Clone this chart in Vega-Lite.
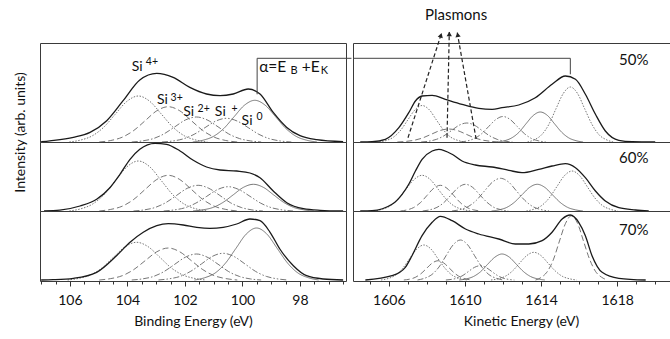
{
"$schema": "https://vega.github.io/schema/vega-lite/v6.json",
"background": "white",
"padding": {"left": 12, "top": 7, "right": 0, "bottom": 0},
"spacing": -3,
"config": {"view": {"stroke": "#3a3a3a", "strokeWidth": 1}, "font": "Lato", "axis": {"grid": false}},
"datasets": {
"L1": [
{"s":"Si4+","e":101.22,"i":0},{"s":"Si4+","e":101.62,"i":2.0},{"s":"Si4+","e":102.02,"i":6.2},{"s":"Si4+","e":102.42,"i":14.9},{"s":"Si4+","e":102.82,"i":27.9},{"s":"Si4+","e":103.22,"i":40.6},{"s":"Si4+","e":103.62,"i":46},{"s":"Si4+","e":104.02,"i":40.6},{"s":"Si4+","e":104.42,"i":27.9},{"s":"Si4+","e":104.82,"i":14.9},{"s":"Si4+","e":105.22,"i":6.2},{"s":"Si4+","e":105.62,"i":2.0},{"s":"Si4+","e":106.02,"i":0},
{"s":"Si3+","e":100.18,"i":0},{"s":"Si3+","e":100.58,"i":1.5},{"s":"Si3+","e":100.98,"i":4.8},{"s":"Si3+","e":101.38,"i":11.5},{"s":"Si3+","e":101.78,"i":21.4},{"s":"Si3+","e":102.18,"i":31.2},{"s":"Si3+","e":102.58,"i":35.3},{"s":"Si3+","e":102.98,"i":31.2},{"s":"Si3+","e":103.38,"i":21.4},{"s":"Si3+","e":103.78,"i":11.5},{"s":"Si3+","e":104.18,"i":4.8},{"s":"Si3+","e":104.58,"i":1.5},{"s":"Si3+","e":104.98,"i":0},
{"s":"Si2+","e":99.35,"i":0},{"s":"Si2+","e":99.73,"i":1.1},{"s":"Si2+","e":100.1,"i":3.4},{"s":"Si2+","e":100.48,"i":8.1},{"s":"Si2+","e":100.85,"i":15.2},{"s":"Si2+","e":101.23,"i":22.1},{"s":"Si2+","e":101.6,"i":25},{"s":"Si2+","e":101.98,"i":22.1},{"s":"Si2+","e":102.35,"i":15.2},{"s":"Si2+","e":102.73,"i":8.1},{"s":"Si2+","e":103.1,"i":3.4},{"s":"Si2+","e":103.48,"i":1.1},{"s":"Si2+","e":103.85,"i":0},
{"s":"Si+","e":98.3,"i":0},{"s":"Si+","e":98.68,"i":1.0},{"s":"Si+","e":99.05,"i":3.2},{"s":"Si+","e":99.43,"i":7.7},{"s":"Si+","e":99.8,"i":14.4},{"s":"Si+","e":100.18,"i":20.9},{"s":"Si+","e":100.55,"i":23.7},{"s":"Si+","e":100.93,"i":20.9},{"s":"Si+","e":101.3,"i":14.4},{"s":"Si+","e":101.68,"i":7.7},{"s":"Si+","e":102.05,"i":3.2},{"s":"Si+","e":102.43,"i":1.0},{"s":"Si+","e":102.8,"i":0},
{"s":"Si0","e":97.41,"i":0},{"s":"Si0","e":97.77,"i":1.8},{"s":"Si0","e":98.13,"i":5.6},{"s":"Si0","e":98.49,"i":13.5},{"s":"Si0","e":98.85,"i":25.3},{"s":"Si0","e":99.21,"i":36.8},{"s":"Si0","e":99.57,"i":41.7},{"s":"Si0","e":99.93,"i":36.8},{"s":"Si0","e":100.29,"i":25.3},{"s":"Si0","e":100.65,"i":13.5},{"s":"Si0","e":101.01,"i":5.6},{"s":"Si0","e":101.37,"i":1.8},{"s":"Si0","e":101.73,"i":0},
{"s":"fit","e":107.0,"i":0.3},{"s":"fit","e":106.7,"i":1.2},{"s":"fit","e":105.88,"i":4.6},{"s":"fit","e":105.3,"i":9.6},{"s":"fit","e":104.72,"i":21.3},{"s":"fit","e":104.15,"i":41.3},{"s":"fit","e":103.57,"i":62.0},{"s":"fit","e":102.98,"i":68.6},{"s":"fit","e":102.41,"i":64.6},{"s":"fit","e":101.83,"i":54.6},{"s":"fit","e":101.25,"i":48.0},{"s":"fit","e":100.78,"i":46.3},{"s":"fit","e":100.32,"i":48.0},{"s":"fit","e":99.8,"i":53.0},{"s":"fit","e":99.39,"i":48.0},{"s":"fit","e":98.93,"i":29.6},{"s":"fit","e":98.46,"i":14.6},{"s":"fit","e":98.0,"i":6.3},{"s":"fit","e":97.42,"i":2.3},{"s":"fit","e":96.5,"i":0.3}
],
"L2": [
{"s":"Si4+","e":101.22,"i":0},{"s":"Si4+","e":101.62,"i":2.2},{"s":"Si4+","e":102.02,"i":6.8},{"s":"Si4+","e":102.42,"i":16.2},{"s":"Si4+","e":102.82,"i":30.3},{"s":"Si4+","e":103.22,"i":44.1},{"s":"Si4+","e":103.62,"i":50},{"s":"Si4+","e":104.02,"i":44.1},{"s":"Si4+","e":104.42,"i":30.3},{"s":"Si4+","e":104.82,"i":16.2},{"s":"Si4+","e":105.22,"i":6.8},{"s":"Si4+","e":105.62,"i":2.2},{"s":"Si4+","e":106.02,"i":0},
{"s":"Si3+","e":100.18,"i":0},{"s":"Si3+","e":100.58,"i":1.6},{"s":"Si3+","e":100.98,"i":4.8},{"s":"Si3+","e":101.38,"i":11.6},{"s":"Si3+","e":101.78,"i":21.7},{"s":"Si3+","e":102.18,"i":31.5},{"s":"Si3+","e":102.58,"i":35.7},{"s":"Si3+","e":102.98,"i":31.5},{"s":"Si3+","e":103.38,"i":21.7},{"s":"Si3+","e":103.78,"i":11.6},{"s":"Si3+","e":104.18,"i":4.8},{"s":"Si3+","e":104.58,"i":1.6},{"s":"Si3+","e":104.98,"i":0},
{"s":"Si2+","e":99.29,"i":0},{"s":"Si2+","e":99.67,"i":1.1},{"s":"Si2+","e":100.04,"i":3.5},{"s":"Si2+","e":100.42,"i":8.3},{"s":"Si2+","e":100.79,"i":15.6},{"s":"Si2+","e":101.17,"i":22.7},{"s":"Si2+","e":101.54,"i":25.7},{"s":"Si2+","e":101.92,"i":22.7},{"s":"Si2+","e":102.29,"i":15.6},{"s":"Si2+","e":102.67,"i":8.3},{"s":"Si2+","e":103.04,"i":3.5},{"s":"Si2+","e":103.42,"i":1.1},{"s":"Si2+","e":103.79,"i":0},
{"s":"Si+","e":98.24,"i":0},{"s":"Si+","e":98.62,"i":1.1},{"s":"Si+","e":98.99,"i":3.3},{"s":"Si+","e":99.37,"i":7.9},{"s":"Si+","e":99.74,"i":14.7},{"s":"Si+","e":100.12,"i":21.4},{"s":"Si+","e":100.49,"i":24.3},{"s":"Si+","e":100.87,"i":21.4},{"s":"Si+","e":101.24,"i":14.7},{"s":"Si+","e":101.62,"i":7.9},{"s":"Si+","e":101.99,"i":3.3},{"s":"Si+","e":102.37,"i":1.1},{"s":"Si+","e":102.74,"i":0},
{"s":"Si0","e":97.52,"i":0},{"s":"Si0","e":97.87,"i":1.2},{"s":"Si0","e":98.22,"i":3.6},{"s":"Si0","e":98.57,"i":8.7},{"s":"Si0","e":98.92,"i":16.2},{"s":"Si0","e":99.27,"i":23.6},{"s":"Si0","e":99.62,"i":26.7},{"s":"Si0","e":99.97,"i":23.6},{"s":"Si0","e":100.32,"i":16.2},{"s":"Si0","e":100.67,"i":8.7},{"s":"Si0","e":101.02,"i":3.6},{"s":"Si0","e":101.37,"i":1.2},{"s":"Si0","e":101.72,"i":0},
{"s":"fit","e":106.9,"i":0.2},{"s":"fit","e":106.35,"i":0.9},{"s":"fit","e":105.65,"i":5},{"s":"fit","e":105.07,"i":11.7},{"s":"fit","e":104.61,"i":23.3},{"s":"fit","e":104.26,"i":36.7},{"s":"fit","e":103.91,"i":51.7},{"s":"fit","e":103.57,"i":61.7},{"s":"fit","e":103.04,"i":67.7},{"s":"fit","e":102.64,"i":66.7},{"s":"fit","e":102.17,"i":60},{"s":"fit","e":101.71,"i":50.7},{"s":"fit","e":101.25,"i":44},{"s":"fit","e":100.78,"i":41},{"s":"fit","e":100.2,"i":40},{"s":"fit","e":99.74,"i":38},{"s":"fit","e":99.39,"i":33.3},{"s":"fit","e":98.93,"i":20},{"s":"fit","e":98.46,"i":8.3},{"s":"fit","e":97.88,"i":2.3},{"s":"fit","e":97.3,"i":0.7},{"s":"fit","e":96.5,"i":0}
],
"L3": [
{"s":"Si4+","e":101.28,"i":0},{"s":"Si4+","e":101.68,"i":1.7},{"s":"Si4+","e":102.08,"i":5.1},{"s":"Si4+","e":102.48,"i":12.2},{"s":"Si4+","e":102.88,"i":22.9},{"s":"Si4+","e":103.28,"i":33.3},{"s":"Si4+","e":103.68,"i":37.7},{"s":"Si4+","e":104.08,"i":33.3},{"s":"Si4+","e":104.48,"i":22.9},{"s":"Si4+","e":104.88,"i":12.2},{"s":"Si4+","e":105.28,"i":5.1},{"s":"Si4+","e":105.68,"i":1.7},{"s":"Si4+","e":106.08,"i":0},
{"s":"Si3+","e":100.18,"i":0},{"s":"Si3+","e":100.58,"i":1.4},{"s":"Si3+","e":100.98,"i":4.3},{"s":"Si3+","e":101.38,"i":10.4},{"s":"Si3+","e":101.78,"i":19.4},{"s":"Si3+","e":102.18,"i":28.2},{"s":"Si3+","e":102.58,"i":32},{"s":"Si3+","e":102.98,"i":28.2},{"s":"Si3+","e":103.38,"i":19.4},{"s":"Si3+","e":103.78,"i":10.4},{"s":"Si3+","e":104.18,"i":4.3},{"s":"Si3+","e":104.58,"i":1.4},{"s":"Si3+","e":104.98,"i":0},
{"s":"Si2+","e":99.35,"i":0},{"s":"Si2+","e":99.73,"i":1.1},{"s":"Si2+","e":100.1,"i":3.5},{"s":"Si2+","e":100.48,"i":8.4},{"s":"Si2+","e":100.85,"i":15.8},{"s":"Si2+","e":101.23,"i":22.9},{"s":"Si2+","e":101.6,"i":26},{"s":"Si2+","e":101.98,"i":22.9},{"s":"Si2+","e":102.35,"i":15.8},{"s":"Si2+","e":102.73,"i":8.4},{"s":"Si2+","e":103.1,"i":3.5},{"s":"Si2+","e":103.48,"i":1.1},{"s":"Si2+","e":103.85,"i":0},
{"s":"Si+","e":98.42,"i":0},{"s":"Si+","e":98.8,"i":1.2},{"s":"Si+","e":99.17,"i":3.6},{"s":"Si+","e":99.55,"i":8.7},{"s":"Si+","e":99.92,"i":16.2},{"s":"Si+","e":100.3,"i":23.6},{"s":"Si+","e":100.67,"i":26.7},{"s":"Si+","e":101.05,"i":23.6},{"s":"Si+","e":101.42,"i":16.2},{"s":"Si+","e":101.8,"i":8.7},{"s":"Si+","e":102.17,"i":3.6},{"s":"Si+","e":102.55,"i":1.2},{"s":"Si+","e":102.92,"i":0},
{"s":"Si0","e":97.35,"i":0},{"s":"Si0","e":97.71,"i":2.3},{"s":"Si0","e":98.07,"i":7.0},{"s":"Si0","e":98.43,"i":16.9},{"s":"Si0","e":98.79,"i":31.5},{"s":"Si0","e":99.15,"i":45.9},{"s":"Si0","e":99.51,"i":52},{"s":"Si0","e":99.87,"i":45.9},{"s":"Si0","e":100.23,"i":31.5},{"s":"Si0","e":100.59,"i":16.9},{"s":"Si0","e":100.95,"i":7.0},{"s":"Si0","e":101.31,"i":2.3},{"s":"Si0","e":101.67,"i":0},
{"s":"fit","e":107.0,"i":0},{"s":"fit","e":106.58,"i":0.3},{"s":"fit","e":105.88,"i":1.7},{"s":"fit","e":105.07,"i":7.7},{"s":"fit","e":104.38,"i":24.3},{"s":"fit","e":103.91,"i":37.7},{"s":"fit","e":103.45,"i":47.7},{"s":"fit","e":102.98,"i":54.3},{"s":"fit","e":102.58,"i":56.3},{"s":"fit","e":102.06,"i":55},{"s":"fit","e":101.59,"i":52.7},{"s":"fit","e":101.13,"i":51.7},{"s":"fit","e":100.67,"i":52.7},{"s":"fit","e":100.2,"i":56},{"s":"fit","e":99.74,"i":61},{"s":"fit","e":99.39,"i":59.3},{"s":"fit","e":99.04,"i":47.7},{"s":"fit","e":98.7,"i":31},{"s":"fit","e":98.23,"i":14.3},{"s":"fit","e":97.77,"i":4.3},{"s":"fit","e":97.19,"i":1},{"s":"fit","e":96.5,"i":0}
],
"R1": [
{"s":"P1","e":1605.5,"i":0},{"s":"P1","e":1605.88,"i":1.6},{"s":"P1","e":1606.25,"i":4.9},{"s":"P1","e":1606.63,"i":11.9},{"s":"P1","e":1607.0,"i":22.1},{"s":"P1","e":1607.38,"i":32.2},{"s":"P1","e":1607.75,"i":36.5},{"s":"P1","e":1608.13,"i":32.2},{"s":"P1","e":1608.5,"i":22.1},{"s":"P1","e":1608.88,"i":11.9},{"s":"P1","e":1609.25,"i":4.9},{"s":"P1","e":1609.63,"i":1.6},{"s":"P1","e":1610.0,"i":0},
{"s":"P2","e":1606.45,"i":0},{"s":"P2","e":1606.9,"i":0.6},{"s":"P2","e":1607.35,"i":1.8},{"s":"P2","e":1607.8,"i":4.2},{"s":"P2","e":1608.25,"i":7.9},{"s":"P2","e":1608.7,"i":11.5},{"s":"P2","e":1609.15,"i":13},{"s":"P2","e":1609.6,"i":11.5},{"s":"P2","e":1610.05,"i":7.9},{"s":"P2","e":1610.5,"i":4.2},{"s":"P2","e":1610.95,"i":1.8},{"s":"P2","e":1611.4,"i":0.6},{"s":"P2","e":1611.85,"i":0},
{"s":"P3","e":1607.7,"i":0},{"s":"P3","e":1608.1,"i":0.8},{"s":"P3","e":1608.5,"i":2.6},{"s":"P3","e":1608.9,"i":6.2},{"s":"P3","e":1609.3,"i":11.5},{"s":"P3","e":1609.7,"i":16.8},{"s":"P3","e":1610.1,"i":19},{"s":"P3","e":1610.5,"i":16.8},{"s":"P3","e":1610.9,"i":11.5},{"s":"P3","e":1611.3,"i":6.2},{"s":"P3","e":1611.7,"i":2.6},{"s":"P3","e":1612.1,"i":0.8},{"s":"P3","e":1612.5,"i":0},
{"s":"P4","e":1609.75,"i":0},{"s":"P4","e":1610.13,"i":1.1},{"s":"P4","e":1610.5,"i":3.5},{"s":"P4","e":1610.88,"i":8.3},{"s":"P4","e":1611.25,"i":15.5},{"s":"P4","e":1611.63,"i":22.5},{"s":"P4","e":1612.0,"i":25.5},{"s":"P4","e":1612.38,"i":22.5},{"s":"P4","e":1612.75,"i":15.5},{"s":"P4","e":1613.13,"i":8.3},{"s":"P4","e":1613.5,"i":3.5},{"s":"P4","e":1613.88,"i":1.1},{"s":"P4","e":1614.25,"i":0},
{"s":"P5","e":1611.71,"i":0},{"s":"P5","e":1612.09,"i":1.3},{"s":"P5","e":1612.46,"i":4.1},{"s":"P5","e":1612.84,"i":9.7},{"s":"P5","e":1613.21,"i":18.2},{"s":"P5","e":1613.59,"i":26.5},{"s":"P5","e":1613.96,"i":30},{"s":"P5","e":1614.34,"i":26.5},{"s":"P5","e":1614.71,"i":18.2},{"s":"P5","e":1615.09,"i":9.7},{"s":"P5","e":1615.46,"i":4.1},{"s":"P5","e":1615.84,"i":1.3},{"s":"P5","e":1616.21,"i":0},
{"s":"P6","e":1613.29,"i":0},{"s":"P6","e":1613.67,"i":2.4},{"s":"P6","e":1614.04,"i":7.4},{"s":"P6","e":1614.42,"i":17.9},{"s":"P6","e":1614.79,"i":33.4},{"s":"P6","e":1615.17,"i":48.5},{"s":"P6","e":1615.54,"i":55},{"s":"P6","e":1615.92,"i":48.5},{"s":"P6","e":1616.29,"i":33.4},{"s":"P6","e":1616.67,"i":17.9},{"s":"P6","e":1617.04,"i":7.4},{"s":"P6","e":1617.42,"i":2.4},{"s":"P6","e":1617.79,"i":0},
{"s":"fit","e":1604.5,"i":0},{"s":"fit","e":1605.12,"i":0.3},{"s":"fit","e":1605.82,"i":2.7},{"s":"fit","e":1606.53,"i":14.3},{"s":"fit","e":1607.05,"i":29.3},{"s":"fit","e":1607.4,"i":41},{"s":"fit","e":1607.75,"i":46},{"s":"fit","e":1608.28,"i":46.7},{"s":"fit","e":1608.97,"i":42.7},{"s":"fit","e":1609.85,"i":37.7},{"s":"fit","e":1610.73,"i":33.7},{"s":"fit","e":1611.43,"i":32.7},{"s":"fit","e":1611.95,"i":34.3},{"s":"fit","e":1612.83,"i":37},{"s":"fit","e":1613.7,"i":44.3},{"s":"fit","e":1614.58,"i":57.7},{"s":"fit","e":1615.28,"i":66},{"s":"fit","e":1615.81,"i":62.7},{"s":"fit","e":1616.33,"i":47.7},{"s":"fit","e":1616.86,"i":27.7},{"s":"fit","e":1617.38,"i":11},{"s":"fit","e":1618.09,"i":1.7},{"s":"fit","e":1618.79,"i":0.3},{"s":"fit","e":1620,"i":0}
],
"R2": [
{"s":"P1","e":1605.2,"i":0},{"s":"P1","e":1605.63,"i":1.6},{"s":"P1","e":1606.05,"i":4.8},{"s":"P1","e":1606.48,"i":11.6},{"s":"P1","e":1606.9,"i":21.7},{"s":"P1","e":1607.33,"i":31.5},{"s":"P1","e":1607.75,"i":35.7},{"s":"P1","e":1608.18,"i":31.5},{"s":"P1","e":1608.6,"i":21.7},{"s":"P1","e":1609.03,"i":11.6},{"s":"P1","e":1609.45,"i":4.8},{"s":"P1","e":1609.88,"i":1.6},{"s":"P1","e":1610.3,"i":0},
{"s":"P2","e":1606.61,"i":0},{"s":"P2","e":1606.96,"i":1.1},{"s":"P2","e":1607.31,"i":3.5},{"s":"P2","e":1607.66,"i":8.3},{"s":"P2","e":1608.01,"i":15.6},{"s":"P2","e":1608.36,"i":22.7},{"s":"P2","e":1608.71,"i":25.7},{"s":"P2","e":1609.06,"i":22.7},{"s":"P2","e":1609.41,"i":15.6},{"s":"P2","e":1609.76,"i":8.3},{"s":"P2","e":1610.11,"i":3.5},{"s":"P2","e":1610.46,"i":1.1},{"s":"P2","e":1610.81,"i":0},
{"s":"P3","e":1607.78,"i":0},{"s":"P3","e":1608.16,"i":1.2},{"s":"P3","e":1608.53,"i":3.6},{"s":"P3","e":1608.91,"i":8.7},{"s":"P3","e":1609.28,"i":16.2},{"s":"P3","e":1609.66,"i":23.6},{"s":"P3","e":1610.03,"i":26.7},{"s":"P3","e":1610.41,"i":23.6},{"s":"P3","e":1610.78,"i":16.2},{"s":"P3","e":1611.16,"i":8.7},{"s":"P3","e":1611.53,"i":3.6},{"s":"P3","e":1611.91,"i":1.2},{"s":"P3","e":1612.28,"i":0},
{"s":"P4","e":1609.32,"i":0},{"s":"P4","e":1609.75,"i":1.4},{"s":"P4","e":1610.17,"i":4.4},{"s":"P4","e":1610.6,"i":10.6},{"s":"P4","e":1611.02,"i":19.8},{"s":"P4","e":1611.45,"i":28.9},{"s":"P4","e":1611.87,"i":32.7},{"s":"P4","e":1612.3,"i":28.9},{"s":"P4","e":1612.72,"i":19.8},{"s":"P4","e":1613.15,"i":10.6},{"s":"P4","e":1613.57,"i":4.4},{"s":"P4","e":1614.0,"i":1.4},{"s":"P4","e":1614.42,"i":0},
{"s":"P5","e":1611.4,"i":0},{"s":"P5","e":1611.8,"i":1.2},{"s":"P5","e":1612.2,"i":3.6},{"s":"P5","e":1612.6,"i":8.7},{"s":"P5","e":1613.0,"i":16.2},{"s":"P5","e":1613.4,"i":23.6},{"s":"P5","e":1613.8,"i":26.7},{"s":"P5","e":1614.2,"i":23.6},{"s":"P5","e":1614.6,"i":16.2},{"s":"P5","e":1615.0,"i":8.7},{"s":"P5","e":1615.4,"i":3.6},{"s":"P5","e":1615.8,"i":1.2},{"s":"P5","e":1616.2,"i":0},
{"s":"P6","e":1613.23,"i":0},{"s":"P6","e":1613.63,"i":1.8},{"s":"P6","e":1614.03,"i":5.4},{"s":"P6","e":1614.43,"i":13.0},{"s":"P6","e":1614.83,"i":24.3},{"s":"P6","e":1615.23,"i":35.3},{"s":"P6","e":1615.63,"i":40},{"s":"P6","e":1616.03,"i":35.3},{"s":"P6","e":1616.43,"i":24.3},{"s":"P6","e":1616.83,"i":13.0},{"s":"P6","e":1617.23,"i":5.4},{"s":"P6","e":1617.63,"i":1.8},{"s":"P6","e":1618.03,"i":0},
{"s":"fit","e":1604.5,"i":0},{"s":"fit","e":1605.12,"i":0.3},{"s":"fit","e":1606.17,"i":6.7},{"s":"fit","e":1606.7,"i":16.7},{"s":"fit","e":1607.05,"i":26.7},{"s":"fit","e":1607.4,"i":40},{"s":"fit","e":1607.75,"i":51.7},{"s":"fit","e":1608.28,"i":60},{"s":"fit","e":1608.63,"i":61.7},{"s":"fit","e":1609.33,"i":56.7},{"s":"fit","e":1609.85,"i":50},{"s":"fit","e":1610.55,"i":46},{"s":"fit","e":1611.43,"i":44},{"s":"fit","e":1612.31,"i":40.7},{"s":"fit","e":1613.0,"i":38.3},{"s":"fit","e":1613.88,"i":41.7},{"s":"fit","e":1614.58,"i":45},{"s":"fit","e":1615.28,"i":47.3},{"s":"fit","e":1615.81,"i":43.3},{"s":"fit","e":1616.33,"i":33.3},{"s":"fit","e":1616.86,"i":20},{"s":"fit","e":1617.38,"i":10},{"s":"fit","e":1618.09,"i":3.3},{"s":"fit","e":1618.96,"i":1},{"s":"fit","e":1619.66,"i":0}
],
"R3": [
{"s":"P1","e":1605.59,"i":0},{"s":"P1","e":1605.97,"i":1.5},{"s":"P1","e":1606.34,"i":4.7},{"s":"P1","e":1606.72,"i":11.4},{"s":"P1","e":1607.09,"i":21.2},{"s":"P1","e":1607.47,"i":30.9},{"s":"P1","e":1607.84,"i":35},{"s":"P1","e":1608.22,"i":30.9},{"s":"P1","e":1608.59,"i":21.2},{"s":"P1","e":1608.97,"i":11.4},{"s":"P1","e":1609.34,"i":4.7},{"s":"P1","e":1609.72,"i":1.5},{"s":"P1","e":1610.09,"i":0},
{"s":"P2","e":1606.79,"i":0},{"s":"P2","e":1607.09,"i":0.8},{"s":"P2","e":1607.39,"i":2.6},{"s":"P2","e":1607.69,"i":6.3},{"s":"P2","e":1607.99,"i":11.7},{"s":"P2","e":1608.29,"i":17.0},{"s":"P2","e":1608.59,"i":19.3},{"s":"P2","e":1608.89,"i":17.0},{"s":"P2","e":1609.19,"i":11.7},{"s":"P2","e":1609.49,"i":6.3},{"s":"P2","e":1609.79,"i":2.6},{"s":"P2","e":1610.09,"i":0.8},{"s":"P2","e":1610.39,"i":0},
{"s":"P3","e":1607.51,"i":0},{"s":"P3","e":1607.89,"i":1.8},{"s":"P3","e":1608.26,"i":5.4},{"s":"P3","e":1608.64,"i":13.0},{"s":"P3","e":1609.01,"i":24.3},{"s":"P3","e":1609.39,"i":35.3},{"s":"P3","e":1609.76,"i":40},{"s":"P3","e":1610.14,"i":35.3},{"s":"P3","e":1610.51,"i":24.3},{"s":"P3","e":1610.89,"i":13.0},{"s":"P3","e":1611.26,"i":5.4},{"s":"P3","e":1611.64,"i":1.8},{"s":"P3","e":1612.01,"i":0},
{"s":"P4","e":1609.0,"i":0},{"s":"P4","e":1609.3,"i":0.6},{"s":"P4","e":1609.6,"i":1.9},{"s":"P4","e":1609.9,"i":4.6},{"s":"P4","e":1610.2,"i":8.7},{"s":"P4","e":1610.5,"i":12.6},{"s":"P4","e":1610.8,"i":14.3},{"s":"P4","e":1611.1,"i":12.6},{"s":"P4","e":1611.4,"i":8.7},{"s":"P4","e":1611.7,"i":4.6},{"s":"P4","e":1612.0,"i":1.9},{"s":"P4","e":1612.3,"i":0.6},{"s":"P4","e":1612.6,"i":0},
{"s":"P5","e":1609.7,"i":0},{"s":"P5","e":1610.08,"i":1.1},{"s":"P5","e":1610.45,"i":3.5},{"s":"P5","e":1610.83,"i":8.4},{"s":"P5","e":1611.2,"i":15.8},{"s":"P5","e":1611.58,"i":22.9},{"s":"P5","e":1611.95,"i":26},{"s":"P5","e":1612.33,"i":22.9},{"s":"P5","e":1612.7,"i":15.8},{"s":"P5","e":1613.08,"i":8.4},{"s":"P5","e":1613.45,"i":3.5},{"s":"P5","e":1613.83,"i":1.1},{"s":"P5","e":1614.2,"i":0},
{"s":"P6","e":1611.37,"i":0},{"s":"P6","e":1611.75,"i":1.2},{"s":"P6","e":1612.12,"i":3.7},{"s":"P6","e":1612.5,"i":9.0},{"s":"P6","e":1612.87,"i":16.8},{"s":"P6","e":1613.25,"i":24.4},{"s":"P6","e":1613.62,"i":27.7},{"s":"P6","e":1614.0,"i":24.4},{"s":"P6","e":1614.37,"i":16.8},{"s":"P6","e":1614.75,"i":9.0},{"s":"P6","e":1615.12,"i":3.7},{"s":"P6","e":1615.5,"i":1.2},{"s":"P6","e":1615.87,"i":0},
{"s":"P7","e":1613.71,"i":0},{"s":"P7","e":1614.03,"i":2.8},{"s":"P7","e":1614.34,"i":8.7},{"s":"P7","e":1614.66,"i":20.9},{"s":"P7","e":1614.97,"i":39.0},{"s":"P7","e":1615.29,"i":56.7},{"s":"P7","e":1615.6,"i":64.3},{"s":"P7","e":1615.92,"i":56.7},{"s":"P7","e":1616.23,"i":39.0},{"s":"P7","e":1616.55,"i":20.9},{"s":"P7","e":1616.86,"i":8.7},{"s":"P7","e":1617.18,"i":2.8},{"s":"P7","e":1617.49,"i":0},
{"s":"fit","e":1604.77,"i":0},{"s":"fit","e":1606.17,"i":4.3},{"s":"fit","e":1606.87,"i":12.7},{"s":"fit","e":1607.22,"i":24.3},{"s":"fit","e":1607.75,"i":44.3},{"s":"fit","e":1608.28,"i":57.7},{"s":"fit","e":1608.71,"i":63.7},{"s":"fit","e":1609.33,"i":59.3},{"s":"fit","e":1610.03,"i":51},{"s":"fit","e":1610.73,"i":46},{"s":"fit","e":1611.78,"i":41},{"s":"fit","e":1612.65,"i":36},{"s":"fit","e":1613.36,"i":36},{"s":"fit","e":1614.06,"i":39.3},{"s":"fit","e":1614.58,"i":47.7},{"s":"fit","e":1615.11,"i":61},{"s":"fit","e":1615.54,"i":65},{"s":"fit","e":1615.98,"i":57.7},{"s":"fit","e":1616.33,"i":44.3},{"s":"fit","e":1616.68,"i":24.3},{"s":"fit","e":1617.21,"i":7.7},{"s":"fit","e":1618.09,"i":1.7},{"s":"fit","e":1619.5,"i":0}
],
"L1ann": [
{"t":"Si","e":103.85,"i":71,"k":"m"},{"t":"4+","e":103.36,"i":80.3,"k":"s"},
{"t":"Si","e":102.97,"i":37.7,"k":"m"},{"t":"3+","e":102.5,"i":43.7,"k":"s"},
{"t":"Si","e":102.06,"i":26,"k":"m"},{"t":"2+","e":101.56,"i":32.7,"k":"s"},
{"t":"Si","e":100.96,"i":26,"k":"m"},{"t":"+","e":100.38,"i":33,"k":"s"},
{"t":"Si","e":100.03,"i":17,"k":"m"},{"t":"0","e":99.51,"i":25,"k":"s"},
{"t":"α=E","e":99.42,"i":74.8,"k":"a"},{"t":"B","e":98.33,"i":71.3,"k":"b"},
{"t":"+E","e":97.94,"i":74.8,"k":"a"},{"t":"K","e":97.28,"i":71.3,"k":"b"}
],
"L1rule": [
{"e":99.49,"e2":99.49,"i":47.7,"i2":83.7},
{"e":99.49,"e2":96.21,"i":83.7,"i2":83.7}
],
"R1rule": [
{"e":1604.12,"e2":1615.54,"i":83.7,"i2":83.7},
{"e":1615.54,"e2":1615.54,"i":83.7,"i2":67.7}
],
"R1arrow": [
{"e":1607.01,"e2":1608.77,"i":4.3,"i2":108.7},
{"e":1609.06,"e2":1609.18,"i":4.3,"i2":110},
{"e":1610.59,"e2":1609.6,"i":3,"i2":109.3}
],
"R1ann": [
{"t":"Plasmons","e":1609.54,"i":127.5},
{"t":"50%","e":1618.87,"i":81.7}
],
"R2ann": [{"t":"60%","e":1618.87,"i":53.3}],
"R3ann": [{"t":"70%","e":1618.87,"i":50.3}]
},
"hconcat": [
{"vconcat": [
{"width": 306, "height": 99, "data": {"name": "L1"},
 "encoding": {
  "x": {"field": "e", "type": "quantitative", "scale": {"domain": [96.4, 107.04], "reverse": true, "nice": false, "zero": false}, "axis": null},
  "y": {"field": "i", "type": "quantitative", "scale": {"domain": [0, 99], "nice": false, "zero": false},
        "axis": {"title": "Intensity (arb. units)", "labels": false, "ticks": false, "domain": false, "grid": false, "titleFontSize": 14, "titleFontWeight": "normal", "titleColor": "#111", "titleX": -20, "titleY": 89, "titleAngle": 270, "titleAlign": "center", "titleBaseline": "middle"}}
 },
 "layer": [
  {"transform": [{"filter": "datum.s !== 'fit'"}], "mark": {"type": "line", "interpolate": "monotone", "strokeWidth": 0.9, "color": "#666"},
   "encoding": {"strokeDash": {"field": "s", "type": "nominal", "legend": null, "scale": {"domain": ["Si4+", "Si3+", "Si2+", "Si+", "Si0"], "range": [[1.5, 1.5], [6, 3], [6, 2, 1.5, 2], [6, 2, 1.5, 2, 1.5, 2], [1, 0]]}}}},
  {"transform": [{"filter": "datum.s === 'fit'"}], "mark": {"type": "line", "interpolate": "monotone", "strokeWidth": 1.3, "color": "#1a1a1a"}},
  {"data": {"name": "L1rule"}, "mark": {"type": "rule", "color": "#444", "strokeWidth": 1}, "encoding": {"x2": {"field": "e2"}, "y2": {"field": "i2"}}},
  {"data": {"name": "L1ann"}, "transform": [{"filter": "datum.k === 'm'"}], "mark": {"type": "text", "align": "left", "baseline": "alphabetic", "fontSize": 14, "color": "#111"}, "encoding": {"text": {"field": "t", "type": "nominal"}}},
  {"data": {"name": "L1ann"}, "transform": [{"filter": "datum.k === 's'"}], "mark": {"type": "text", "align": "left", "baseline": "middle", "fontSize": 10.5, "color": "#111"}, "encoding": {"text": {"field": "t", "type": "nominal"}}},
  {"data": {"name": "L1ann"}, "transform": [{"filter": "datum.k === 'a'"}], "mark": {"type": "text", "align": "left", "baseline": "middle", "fontSize": 15.5, "color": "#111"}, "encoding": {"text": {"field": "t", "type": "nominal"}}},
  {"data": {"name": "L1ann"}, "transform": [{"filter": "datum.k === 'b'"}], "mark": {"type": "text", "align": "left", "baseline": "middle", "fontSize": 11, "color": "#111"}, "encoding": {"text": {"field": "t", "type": "nominal"}}}
 ]},
{"width": 306, "height": 69, "data": {"name": "L2"},
 "encoding": {
  "x": {"field": "e", "type": "quantitative", "scale": {"domain": [96.4, 107.04], "reverse": true, "nice": false, "zero": false}, "axis": null},
  "y": {"field": "i", "type": "quantitative", "scale": {"domain": [0, 69], "nice": false, "zero": false}, "axis": null}
 },
 "layer": [
  {"transform": [{"filter": "datum.s !== 'fit'"}], "mark": {"type": "line", "interpolate": "monotone", "strokeWidth": 0.9, "color": "#666"},
   "encoding": {"strokeDash": {"field": "s", "type": "nominal", "legend": null, "scale": {"domain": ["Si4+", "Si3+", "Si2+", "Si+", "Si0"], "range": [[1.5, 1.5], [6, 3], [6, 2, 1.5, 2], [6, 2, 1.5, 2, 1.5, 2], [1, 0]]}}}},
  {"transform": [{"filter": "datum.s === 'fit'"}], "mark": {"type": "line", "interpolate": "monotone", "strokeWidth": 1.3, "color": "#1a1a1a"}}
 ]},
{"width": 306, "height": 70, "data": {"name": "L3"},
 "encoding": {
  "x": {"field": "e", "type": "quantitative", "scale": {"domain": [96.4, 107.04], "reverse": true, "nice": false, "zero": false},
        "axis": {"values": [96.5, 97, 97.5, 98, 98.5, 99, 99.5, 100, 100.5, 101, 101.5, 102, 102.5, 103, 103.5, 104, 104.5, 105, 105.5, 106, 106.5, 107],
                 "labelExpr": "datum.value % 2 === 0 ? format(datum.value, 'd') : ''",
                 "tickSize": {"condition": {"test": "datum.value % 2 === 0", "value": 5}, "value": 3},
                 "labelOverlap": false, "labelFlush": false, "domain": false, "grid": false, "tickColor": "#333",
                 "labelFontSize": 14, "labelColor": "#111", "labelPadding": 7,
                 "title": "Binding Energy (eV)", "titleFontSize": 14, "titleFontWeight": "normal", "titleColor": "#111", "titlePadding": 7}},
  "y": {"field": "i", "type": "quantitative", "scale": {"domain": [-1, 69], "nice": false, "zero": false}, "axis": null}
 },
 "layer": [
  {"transform": [{"filter": "datum.s !== 'fit'"}], "mark": {"type": "line", "interpolate": "monotone", "strokeWidth": 0.9, "color": "#666"},
   "encoding": {"strokeDash": {"field": "s", "type": "nominal", "legend": null, "scale": {"domain": ["Si4+", "Si3+", "Si2+", "Si+", "Si0"], "range": [[1.5, 1.5], [6, 3], [6, 2, 1.5, 2], [6, 2, 1.5, 2, 1.5, 2], [1, 0]]}}}},
  {"transform": [{"filter": "datum.s === 'fit'"}], "mark": {"type": "line", "interpolate": "monotone", "strokeWidth": 1.3, "color": "#1a1a1a"}}
 ]}
], "spacing": 0, "bounds": "flush"},
{"vconcat": [
{"width": 318, "height": 99, "data": {"name": "R1"},
 "encoding": {
  "x": {"field": "e", "type": "quantitative", "scale": {"domain": [1604.12, 1620.83], "nice": false, "zero": false}, "axis": null},
  "y": {"field": "i", "type": "quantitative", "scale": {"domain": [0, 99], "nice": false, "zero": false}, "axis": null}
 },
 "layer": [
  {"transform": [{"filter": "datum.s !== 'fit'"}], "mark": {"type": "line", "interpolate": "monotone", "strokeWidth": 0.9, "color": "#666"},
   "encoding": {"strokeDash": {"field": "s", "type": "nominal", "legend": null, "scale": {"domain": ["P1", "P2", "P3", "P4", "P5", "P6"], "range": [[6, 3], [1.5, 1.5], [1.5, 1.5], [6, 2, 1.5, 2], [6, 3], [6, 2, 1.5, 2, 1.5, 2]]}}}},
  {"transform": [{"filter": "datum.s === 'fit'"}], "mark": {"type": "line", "interpolate": "monotone", "strokeWidth": 1.3, "color": "#1a1a1a"}},
  {"data": {"name": "R1rule"}, "mark": {"type": "rule", "color": "#444", "strokeWidth": 1}, "encoding": {"x2": {"field": "e2"}, "y2": {"field": "i2"}}},
  {"data": {"name": "R1arrow"}, "mark": {"type": "rule", "color": "#222", "strokeWidth": 1.2, "strokeDash": [4, 2.5]}, "encoding": {"x2": {"field": "e2"}, "y2": {"field": "i2"}}},
  {"data": {"values": [{"e": 1608.74, "i": 106.7}]}, "mark": {"type": "point", "shape": "triangle-up", "filled": true, "size": 28, "angle": 17.7, "color": "#222", "opacity": 1}},
  {"data": {"values": [{"e": 1609.18, "i": 108}]}, "mark": {"type": "point", "shape": "triangle-up", "filled": true, "size": 28, "angle": 1.3, "color": "#222", "opacity": 1}},
  {"data": {"values": [{"e": 1609.62, "i": 107.3}]}, "mark": {"type": "point", "shape": "triangle-up", "filled": true, "size": 28, "angle": 350, "color": "#222", "opacity": 1}},
  {"data": {"name": "R1ann"}, "mark": {"type": "text", "align": "center", "baseline": "middle", "fontSize": 15, "color": "#111"}, "encoding": {"text": {"field": "t", "type": "nominal"}}}
 ]},
{"width": 318, "height": 69, "data": {"name": "R2"},
 "encoding": {
  "x": {"field": "e", "type": "quantitative", "scale": {"domain": [1604.12, 1620.83], "nice": false, "zero": false}, "axis": null},
  "y": {"field": "i", "type": "quantitative", "scale": {"domain": [0, 69], "nice": false, "zero": false}, "axis": null}
 },
 "layer": [
  {"transform": [{"filter": "datum.s !== 'fit'"}], "mark": {"type": "line", "interpolate": "monotone", "strokeWidth": 0.9, "color": "#666"},
   "encoding": {"strokeDash": {"field": "s", "type": "nominal", "legend": null, "scale": {"domain": ["P1", "P2", "P3", "P4", "P5", "P6"], "range": [[6, 2, 1.5, 2], [1, 0], [6, 3], [6, 2, 1.5, 2], [1.5, 1.5], [6, 3]]}}}},
  {"transform": [{"filter": "datum.s === 'fit'"}], "mark": {"type": "line", "interpolate": "monotone", "strokeWidth": 1.3, "color": "#1a1a1a"}},
  {"data": {"name": "R2ann"}, "mark": {"type": "text", "align": "center", "baseline": "middle", "fontSize": 15, "color": "#111"}, "encoding": {"text": {"field": "t", "type": "nominal"}}}
 ]},
{"width": 318, "height": 70, "data": {"name": "R3"},
 "encoding": {
  "x": {"field": "e", "type": "quantitative", "scale": {"domain": [1604.12, 1620.83], "nice": false, "zero": false},
        "axis": {"values": [1605, 1606, 1607, 1608, 1609, 1610, 1611, 1612, 1613, 1614, 1615, 1616, 1617, 1618, 1619, 1620],
                 "labelExpr": "datum.value % 4 === 2 ? format(datum.value, 'd') : ''",
                 "tickSize": {"condition": {"test": "datum.value % 4 === 2", "value": 5}, "value": 3},
                 "labelOverlap": false, "labelFlush": false, "domain": false, "grid": false, "tickColor": "#333",
                 "labelFontSize": 14, "labelColor": "#111", "labelPadding": 7,
                 "title": "Kinetic Energy (eV)", "titleFontSize": 14, "titleFontWeight": "normal", "titleColor": "#111", "titlePadding": 7, "titleX": 168}},
  "y": {"field": "i", "type": "quantitative", "scale": {"domain": [-1, 69], "nice": false, "zero": false}, "axis": null}
 },
 "layer": [
  {"transform": [{"filter": "datum.s !== 'fit'"}], "mark": {"type": "line", "interpolate": "monotone", "strokeWidth": 0.9, "color": "#666"},
   "encoding": {"strokeDash": {"field": "s", "type": "nominal", "legend": null, "scale": {"domain": ["P1", "P2", "P3", "P4", "P5", "P6", "P7"], "range": [[6, 2, 1.5, 2], [1, 0], [1.5, 1.5], [6, 2, 1.5, 2], [1, 0], [6, 2, 1.5, 2], [6, 2, 1.5, 2, 1.5, 2]]}}}},
  {"transform": [{"filter": "datum.s === 'fit'"}], "mark": {"type": "line", "interpolate": "monotone", "strokeWidth": 1.3, "color": "#1a1a1a"}},
  {"data": {"name": "R3ann"}, "mark": {"type": "text", "align": "center", "baseline": "middle", "fontSize": 15, "color": "#111"}, "encoding": {"text": {"field": "t", "type": "nominal"}}}
 ]}
], "spacing": 0, "bounds": "flush"}
]
}
